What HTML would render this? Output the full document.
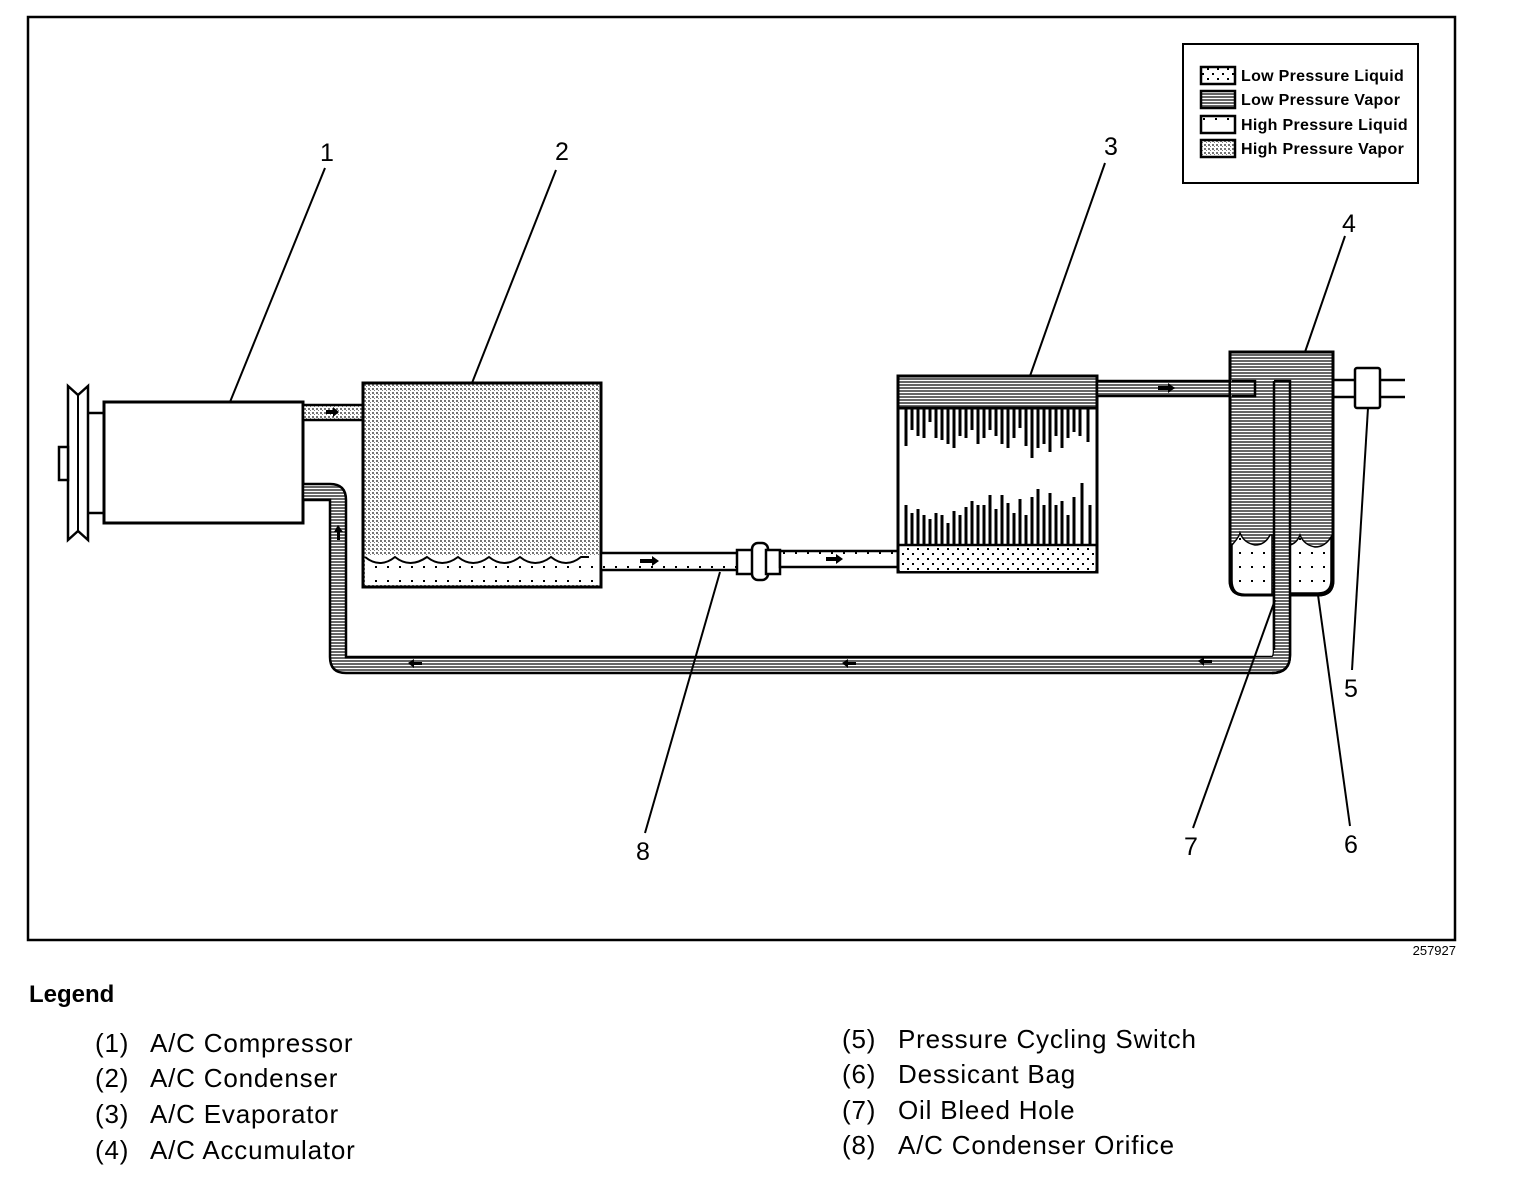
<!DOCTYPE html>
<html><head><meta charset="utf-8"><style>
body{margin:0;background:#fff;width:1520px;height:1186px;overflow:hidden}
svg{display:block}
text{font-family:"Liberation Sans",Arial,sans-serif;fill:#000}
</style></head><body>
<svg width="1520" height="1186" viewBox="0 0 1520 1186" xmlns="http://www.w3.org/2000/svg">
<defs>
<pattern id="hv" width="4" height="4" patternUnits="userSpaceOnUse"><rect width="4" height="4" fill="#fff"/><rect width="2" height="2" fill="#000" opacity=".55"/><rect x="2" y="2" width="1" height="1" fill="#000" opacity=".5"/></pattern>
<pattern id="lv" width="3" height="3" patternUnits="userSpaceOnUse"><rect width="3" height="3" fill="#fff"/><rect width="3" height="2" fill="#000" opacity=".6"/></pattern>
<pattern id="ll" width="10" height="10" patternUnits="userSpaceOnUse"><rect width="10" height="10" fill="#fff"/><rect x="2" y="3" width="2" height="2" fill="#000"/><rect x="7" y="8" width="2" height="2" fill="#000"/></pattern>
<pattern id="hl" width="12" height="14" patternUnits="userSpaceOnUse"><rect width="12" height="14" fill="#fff"/><rect x="3" y="6" width="2" height="2" fill="#000"/></pattern>
</defs>
<rect x="28" y="17" width="1427" height="923" fill="none" stroke="#000" stroke-width="2.5"/>

<!-- legend box -->
<rect x="1183" y="44" width="235" height="139" fill="#fff" stroke="#000" stroke-width="2"/>
<rect x="1201" y="67" width="34" height="17" fill="url(#ll)" stroke="#000" stroke-width="2.5"/>
<rect x="1201" y="91" width="34" height="17" fill="url(#lv)" stroke="#000" stroke-width="2.5"/>
<rect x="1201" y="116" width="34" height="17" fill="url(#hl)" stroke="#000" stroke-width="2.5"/>
<rect x="1201" y="140" width="34" height="17" fill="url(#hv)" stroke="#000" stroke-width="2.5"/>
<g font-size="16" font-weight="bold" letter-spacing="0.3">
<text x="1241" y="81">Low Pressure Liquid</text>
<text x="1241" y="105">Low Pressure Vapor</text>
<text x="1241" y="130">High Pressure Liquid</text>
<text x="1241" y="154">High Pressure Vapor</text>
</g>

<!-- compressor -->
<path d="M68 386 L78 395 L88 386 L88 540 L78 531 L68 540 Z" fill="#fff" stroke="#000" stroke-width="2.5"/>
<line x1="78" y1="395" x2="78" y2="531" stroke="#000" stroke-width="2"/>
<rect x="59" y="447" width="9" height="33" fill="#fff" stroke="#000" stroke-width="2.5"/>
<line x1="88" y1="413" x2="104" y2="413" stroke="#000" stroke-width="2.5"/>
<line x1="88" y1="513" x2="104" y2="513" stroke="#000" stroke-width="2.5"/>
<rect x="104" y="402" width="199" height="121" fill="#fff" stroke="#000" stroke-width="3"/>

<!-- discharge pipe -->
<rect x="303" y="405" width="60" height="15" fill="url(#hv)" stroke="#000" stroke-width="2.5"/>
<path d="M326 410 h7 v-3 l6 5 l-6 5 v-3 h-7z" fill="#000"/>

<!-- suction return pipe -->
<path d="M303 484 H330 Q346 484 346 500 V657 H1272 Q1274 657 1274 650 V381 H1290 V655 Q1290 673 1272 673 H346 Q330 673 330 657 V500 H303 Z" fill="url(#lv)" stroke="#000" stroke-width="2.5"/>
<path d="M408 663 l6 -4 v3 h8 v3 h-8 v3z M842 663 l6 -4 v3 h8 v3 h-8 v3z M1198 661 l6 -4 v3 h8 v3 h-8 v3z M338 525 l-4 7 h3 v8 h3 v-8 h3z" fill="#000"/>

<!-- condenser -->
<rect x="363" y="383" width="238" height="204" fill="url(#hv)" stroke="#000" stroke-width="3"/>
<rect x="365" y="556" width="234" height="29" fill="url(#hl)"/>
<path d="M365 557 q15 12 30 0 q15 12 32 0 q15 12 31 0 q15 12 31 0 q15 12 31 0 q15 12 31 0 q15 12 30 0 h8" fill="none" stroke="#000" stroke-width="2"/>
<rect x="363" y="383" width="238" height="204" fill="none" stroke="#000" stroke-width="3"/>

<!-- liquid line with orifice -->
<rect x="601" y="553" width="140" height="17" fill="url(#hl)" stroke="#000" stroke-width="2.5"/>
<path d="M640 559 h12 v-3 l7 5 l-7 5 v-3 h-12z" fill="#000"/>
<rect x="737" y="550" width="18" height="24" fill="#fff" stroke="#000" stroke-width="2.5"/>
<rect x="752" y="543" width="16" height="37" rx="6" fill="#fff" stroke="#000" stroke-width="2.5"/>
<rect x="766" y="550" width="14" height="24" fill="#fff" stroke="#000" stroke-width="2.5"/>
<rect x="780" y="551" width="118" height="16" fill="url(#hl)" stroke="#000" stroke-width="2.5"/>
<path d="M826 557 h10 v-3 l7 5 l-7 5 v-3 h-10z" fill="#000"/>

<!-- evaporator -->
<rect x="898" y="376" width="199" height="196" fill="#fff" stroke="#000" stroke-width="3"/>
<rect x="898" y="376" width="199" height="32" fill="url(#lv)" stroke="#000" stroke-width="3"/>
<rect x="900" y="545" width="195" height="26" fill="url(#ll)"/>
<line x1="898" y1="545" x2="1097" y2="545" stroke="#000" stroke-width="2.5"/>
<g stroke="#000" stroke-width="3">
<path d="M906 408v38 M912 408v22 M918 408v28 M924 408v30 M930 408v14 M936 408v30 M942 408v32 M948 408v36 M954 408v40 M960 408v28 M966 408v30 M972 408v22 M978 408v36 M984 408v30 M990 408v22 M996 408v28 M1002 408v36 M1008 408v40 M1014 408v30 M1020 408v20 M1026 408v38 M1032 408v50 M1038 408v40 M1044 408v36 M1050 408v44 M1056 408v28 M1062 408v40 M1068 408v30 M1074 408v24 M1080 408v28 M1088 408v34"/>
<path d="M906 545v-40 M912 545v-32 M918 545v-36 M924 545v-30 M930 545v-26 M936 545v-32 M942 545v-30 M948 545v-22 M954 545v-34 M960 545v-30 M966 545v-38 M972 545v-44 M978 545v-40 M984 545v-40 M990 545v-50 M996 545v-36 M1002 545v-50 M1008 545v-42 M1014 545v-32 M1020 545v-46 M1026 545v-30 M1032 545v-48 M1038 545v-56 M1044 545v-40 M1050 545v-52 M1056 545v-40 M1062 545v-44 M1068 545v-30 M1074 545v-48 M1082 545v-62 M1090 545v-40"/>
</g>

<!-- top pipe to accumulator -->
<rect x="1097" y="381" width="135" height="15" fill="url(#lv)" stroke="#000" stroke-width="2.5"/>
<path d="M1158 386 h10 v-3 l7 5 l-7 5 v-3 h-10z" fill="#000"/>

<!-- accumulator -->
<path d="M1230 352 H1333 V580 Q1333 595 1318 595 H1245 Q1230 595 1230 580 Z" fill="url(#lv)" stroke="#000" stroke-width="3"/>
<path d="M1232 545 q7 -8 8 -12 q4 10 15 12 q10 0 15 -10 l2 0 V595 H1245 Q1232 595 1232 580Z" fill="url(#hl)" stroke="#000" stroke-width="1.5"/>
<path d="M1290 545 q7 -2 10 -10 q4 10 15 12 q10 0 16 -10 V580 Q1331 593 1318 593 H1290Z" fill="url(#hl)" stroke="#000" stroke-width="1.5"/>
<path d="M1230 352 H1333 V580 Q1333 595 1318 595 H1245 Q1230 595 1230 580 Z" fill="none" stroke="#000" stroke-width="3"/>
<rect x="1231" y="382.5" width="24" height="12" fill="url(#lv)"/>
<path d="M1232 381 H1255 V396 H1232" stroke="#000" stroke-width="2.5" fill="none"/>
<path d="M1274 381 H1290 V655 Q1290 671 1272 671 H1255 V657 H1272 Q1274 657 1274 650Z" fill="url(#lv)"/>
<path d="M1274 381 H1290 V655 Q1290 673 1272 673 M1274 381 V650" fill="none" stroke="#000" stroke-width="2.5"/>

<!-- pressure switch -->
<line x1="1333" y1="380" x2="1405" y2="380" stroke="#000" stroke-width="2.5"/>
<line x1="1333" y1="397" x2="1405" y2="397" stroke="#000" stroke-width="2.5"/>
<rect x="1355" y="368" width="25" height="40" rx="2" fill="#fff" stroke="#000" stroke-width="2.5"/>

<!-- leader lines -->
<g stroke="#000" stroke-width="2">
<line x1="325" y1="168" x2="230" y2="402"/>
<line x1="556" y1="170" x2="472" y2="383"/>
<line x1="1105" y1="163" x2="1030" y2="376"/>
<line x1="1345" y1="236" x2="1305" y2="352"/>
<line x1="1352" y1="670" x2="1368" y2="408"/>
<line x1="1350" y1="826" x2="1318" y2="595"/>
<line x1="1193" y1="828" x2="1275" y2="600"/>
<line x1="645" y1="833" x2="720" y2="572"/>
</g>
<g font-size="25">
<text x="320" y="161">1</text>
<text x="555" y="160">2</text>
<text x="1104" y="155">3</text>
<text x="1342" y="232">4</text>
<text x="1344" y="697">5</text>
<text x="1344" y="853">6</text>
<text x="1184" y="855">7</text>
<text x="636" y="860">8</text>
</g>
<text x="1456" y="955" font-size="13" text-anchor="end">257927</text>

<text x="29" y="1002" font-size="24" font-weight="bold">Legend</text>
<g font-size="26" letter-spacing="0.8">
<text x="95" y="1052">(1)</text><text x="150" y="1052">A/C Compressor</text>
<text x="95" y="1087">(2)</text><text x="150" y="1087">A/C Condenser</text>
<text x="95" y="1123">(3)</text><text x="150" y="1123">A/C Evaporator</text>
<text x="95" y="1159">(4)</text><text x="150" y="1159">A/C Accumulator</text>
<text x="842" y="1048">(5)</text><text x="898" y="1048">Pressure Cycling Switch</text>
<text x="842" y="1083">(6)</text><text x="898" y="1083">Dessicant Bag</text>
<text x="842" y="1119">(7)</text><text x="898" y="1119">Oil Bleed Hole</text>
<text x="842" y="1154">(8)</text><text x="898" y="1154">A/C Condenser Orifice</text>
</g>
</svg>
</body></html>
